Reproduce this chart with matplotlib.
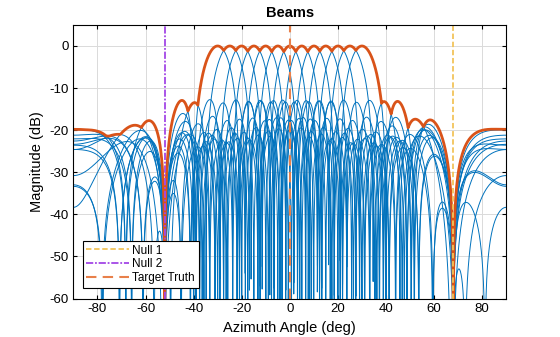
import numpy as np
import matplotlib
matplotlib.use("Agg")
import matplotlib.pyplot as plt

# array / scenario parameters
num_elements = 14
element_spacing = 0.5  # wavelengths
beam_angles = [-30, -25, -20, -15, -10, -5, 0, 5, 10, 15, 20, 25, 30]
null_angles = [68, -52]
target_angle = 0
null_labels = ["Null 1", "Null 2"]


def steering(ang_deg):
    n = np.arange(num_elements)
    return np.exp(1j * 2 * np.pi * element_spacing * n * np.sin(np.deg2rad(ang_deg)))


az = np.linspace(-90, 90, 3601)
A = np.stack([steering(a) for a in az], axis=1)

# projection that puts nulls on the two interferers
V = np.stack([steering(a) for a in null_angles], axis=1)
P = np.eye(num_elements) - V @ np.linalg.inv(V.conj().T @ V) @ V.conj().T

patterns = []
for b in beam_angles:
    w = P @ steering(b)
    resp = np.abs(w.conj() @ A)
    resp = resp / resp.max()
    patterns.append(20 * np.log10(np.maximum(resp, 1e-8)))
patterns = np.array(patterns)
envelope = patterns.max(axis=0)

plt.rcParams["font.family"] = ["Liberation Sans", "DejaVu Sans"]
plt.rcParams["axes.unicode_minus"] = False
fig = plt.figure(figsize=(5.6, 3.37), dpi=100)
ax = fig.add_axes([0.131, 0.114, 0.773, 0.812])

for p in patterns:
    ax.plot(az, p, color="#0072BD", lw=0.7)
ax.plot(az, envelope, color="#D95319", lw=2.0)

h1 = ax.axvline(null_angles[0], color="#F2C45A", ls=(0, (3, 1.5)), lw=1.3, label=null_labels[0])
h2 = ax.axvline(null_angles[1], color="#A347E6", ls=(0, (4, 1, 1, 1)), lw=1.3, label=null_labels[1])
h3 = ax.axvline(target_angle, color="#E8804A", ls=(0, (5, 3)), lw=1.5, label="Target Truth")

ax.set_xlim(-90, 90)
ax.set_ylim(-60, 5)
ax.set_xticks(np.arange(-80, 81, 20))
ax.set_yticks(np.arange(-60, 1, 10))
ax.grid(True, color="#DADADA", lw=0.7)
ax.set_axisbelow(True)
ax.tick_params(labelsize=9.5, direction="in", length=3, top=True, right=True)
for s in ax.spines.values():
    s.set_linewidth(0.8)
ax.set_xlabel("Azimuth Angle (deg)", fontsize=10.5)
ax.set_ylabel("Magnitude (dB)", fontsize=10.5)
ax.set_title("Beams", fontsize=10.5, fontweight="bold")

leg = ax.legend(handles=[h1, h2, h3], loc="lower left", fontsize=8.5, fancybox=False,
                framealpha=1, edgecolor="black", handlelength=3.6, borderpad=0.3,
                labelspacing=0.15, handletextpad=0.3, borderaxespad=0,
                bbox_to_anchor=(0.022, 0.04))
leg.get_frame().set_linewidth(0.8)

fig.savefig("out.png", dpi=100)
